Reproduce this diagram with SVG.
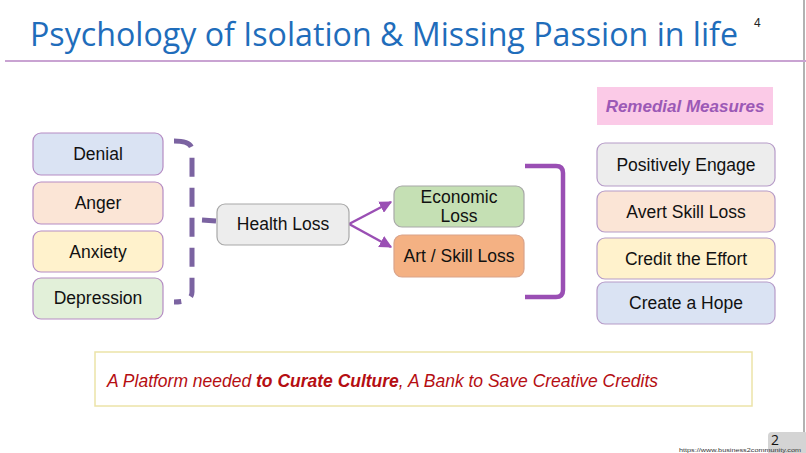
<svg xmlns="http://www.w3.org/2000/svg" width="806" height="453" viewBox="0 0 806 453">
<defs>
<style>
.t{font-family:"Liberation Sans",Arial,sans-serif;font-size:17.5px;fill:#111;text-anchor:middle}
.lb{stroke:#b58cc4;stroke-width:1.2}
.mb{stroke:#a8a8a8;stroke-width:1.2}
.rb{stroke:#b69bc8;stroke-width:1.2}
</style>
<marker id="ah" viewBox="0 0 10 10" refX="9" refY="5" markerWidth="5" markerHeight="5" orient="auto">
<path d="M0,0 L10,5 L0,10 z" fill="#9a4fb4"/>
</marker>
</defs>
<rect width="806" height="453" fill="#ffffff"/>
<line x1="804" y1="0" x2="804" y2="453" stroke="#7f7f7f" stroke-width="1.2"/>
<g id="title">
<text x="30" y="46" font-family="'Open Sans','Noto Sans',sans-serif" font-size="32" fill="#1f6dbb" textLength="708" lengthAdjust="spacingAndGlyphs">Psychology of Isolation &amp; Missing Passion in life</text>
<text x="754" y="27" font-family="'Liberation Sans',sans-serif" font-size="12" fill="#222">4</text>
<line x1="5" y1="61" x2="806" y2="61" stroke="#c9a3d2" stroke-width="2"/>
</g>
<g id="connectors">
<path d="M174,141 Q192,141 192,150 L192,292 Q192,302 174,302" fill="none" stroke="#7b63a1" stroke-width="5" stroke-dasharray="19 11"/>
<line x1="202" y1="220" x2="216" y2="221" stroke="#7b63a1" stroke-width="5"/>
<line x1="349" y1="224" x2="391" y2="202" stroke="#9a4fb4" stroke-width="2.5" marker-end="url(#ah)"/>
<line x1="349" y1="224" x2="391" y2="247" stroke="#9a4fb4" stroke-width="2.5" marker-end="url(#ah)"/>
<path d="M525,166 L556,166 Q563,166 563,173 L563,290 Q563,297 556,297 L525,297" fill="none" stroke="#9a4fb4" stroke-width="4.5"/>
</g>
<g id="denial"><rect x="33" y="133" width="130" height="42" rx="8" fill="#dae3f3" class="lb"/><text x="98" y="160" class="t">Denial</text></g>
<g id="anger"><rect x="33" y="182" width="130" height="42" rx="8" fill="#fbe5d6" class="lb"/><text x="98" y="209" class="t">Anger</text></g>
<g id="anxiety"><rect x="33" y="231" width="130" height="41" rx="8" fill="#fff2cc" class="lb"/><text x="98" y="258" class="t">Anxiety</text></g>
<g id="depression"><rect x="33" y="278" width="130" height="41" rx="8" fill="#e2f0d9" class="lb"/><text x="98" y="304" class="t">Depression</text></g>
<g id="health-loss"><rect x="217" y="204" width="132" height="41" rx="8" fill="#ededed" class="mb"/><text x="283" y="230" class="t">Health Loss</text></g>
<g id="economic-loss"><rect x="394" y="186" width="130" height="41" rx="8" fill="#c5e0b4" class="mb"/><text x="459" y="203" class="t">Economic</text><text x="459" y="222" class="t">Loss</text></g>
<g id="art-skill-loss"><rect x="394" y="235" width="130" height="42" rx="8" fill="#f4b183" stroke="#d9a38a" stroke-width="1.2"/><text x="459" y="262" class="t">Art / Skill Loss</text></g>
<g id="remedial-measures"><rect x="597" y="87" width="176" height="38" fill="#fbcae7"/><text x="685" y="112" font-family="'Liberation Sans',Arial,sans-serif" font-size="17" font-weight="bold" font-style="italic" fill="#9b59b6" text-anchor="middle">Remedial Measures</text></g>
<g id="positively-engage"><rect x="597" y="143" width="178" height="43" rx="8" fill="#ededed" class="rb"/><text x="686" y="171" class="t">Positively Engage</text></g>
<g id="avert-skill-loss"><rect x="597" y="191" width="178" height="41" rx="8" fill="#fbe5d6" class="rb"/><text x="686" y="218" class="t">Avert Skill Loss</text></g>
<g id="credit-the-effort"><rect x="597" y="238" width="178" height="41" rx="8" fill="#fff2cc" class="rb"/><text x="686" y="265" class="t">Credit the Effort</text></g>
<g id="create-a-hope"><rect x="597" y="282" width="178" height="42" rx="8" fill="#dae3f3" class="rb"/><text x="686" y="309" class="t">Create a Hope</text></g>
<g id="platform">
<rect x="95" y="352" width="657" height="54" fill="#ffffff" stroke="#ece3a8" stroke-width="1.5"/>
<text x="107" y="387" font-family="'Liberation Sans',Arial,sans-serif" font-size="17.5" font-style="italic" fill="#b50e12" textLength="551" lengthAdjust="spacingAndGlyphs">A Platform needed <tspan font-weight="bold">to Curate Culture</tspan>, A Bank to Save Creative Credits</text>
</g>
<g id="page-number">
<rect x="768" y="432" width="40" height="25" rx="4" fill="#d4d4d4"/>
<text x="771" y="445" font-family="'Open Sans','Noto Sans',sans-serif" font-size="14" fill="#111">2</text>
<text x="679" y="452" font-family="'Liberation Sans',sans-serif" font-size="5.5" fill="#333" textLength="122" lengthAdjust="spacingAndGlyphs">https://www.business2community.com</text>
</g>
</svg>
